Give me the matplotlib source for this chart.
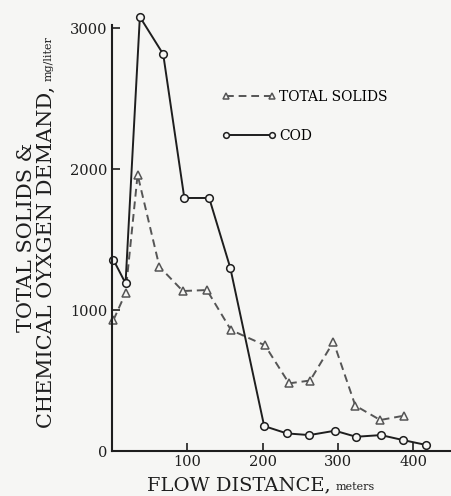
import matplotlib
matplotlib.use('Agg')
import matplotlib.pyplot as plt

plt.rcParams['font.family'] = ['DejaVu Serif']

# Flow distance (m) and concentrations (mg/liter)
cod_dist = [2, 18, 37, 68, 96, 129, 157, 202, 232, 262, 296, 324, 357, 386, 417]
cod_vals = [1355, 1190, 3080, 2815, 1795, 1795, 1300, 177, 125, 113, 144, 101, 113, 78, 43]

ts_dist = [2, 18, 34, 63, 94, 126, 158, 203, 235, 263, 294, 323, 356, 387]
ts_vals = [930, 1120, 1960, 1307, 1135, 1142, 858, 750, 480, 500, 775, 322, 220, 250]

x_ticks = [100, 200, 300, 400]
y_ticks = [0, 1000, 2000, 3000]

bg = '#f6f6f4'
ink = '#1e1e1e'
fig = plt.figure(figsize=(4.51, 4.96), dpi=100, facecolor=bg)
ax = fig.add_axes([0.2483, 0.0907, 0.7517, 0.881])
ax.set_facecolor(bg)

ts_line, = ax.plot(ts_dist, ts_vals, color='#555555', lw=1.4, ls=(0, (4, 2.5)),
                   marker='^', ms=6, mfc=bg, mec='#555555', mew=1.1, clip_on=False)
cod_line, = ax.plot(cod_dist, cod_vals, color=ink, lw=1.4, ls='-',
                    marker='o', ms=5.5, mfc=bg, mec=ink, mew=1.1, clip_on=False)

ax.set_xlim(0, 450)
ax.set_ylim(0, 3100)
ax.set_xticks(x_ticks)
ax.set_yticks(y_ticks)
ax.tick_params(direction='in', length=6, width=1.2, labelsize=10.5, pad=3, colors=ink)
for s in ['top', 'right']:
    ax.spines[s].set_visible(False)
for s in ['left', 'bottom']:
    ax.spines[s].set_linewidth(1.5)
    ax.spines[s].set_color(ink)
ax.spines['left'].set_bounds(0, 3020)

leg = ax.legend([ts_line, cod_line], ['TOTAL SOLIDS', 'COD'], loc='upper left',
                bbox_to_anchor=(0.324, 0.826), frameon=False, fontsize=10,
                handlelength=3.9, handletextpad=0.2, labelspacing=1.8,
                borderpad=0, borderaxespad=0, numpoints=2, markerscale=0.75)

renderer = fig.canvas.get_renderer()
W, H = fig.bbox.width, fig.bbox.height


def label_pair(big, small, x_px, y_px, rotation, big_size, small_size):
    # big text followed by a smaller unit text on the same baseline
    t = fig.text(x_px / W, 1 - y_px / H, big, fontsize=big_size, rotation=rotation,
                 rotation_mode='anchor', ha='left', va='baseline', color=ink)
    bb = t.get_window_extent(renderer)
    if rotation == 0:
        fig.text((bb.x1 + 5) / W, 1 - y_px / H, small, fontsize=small_size,
                 ha='left', va='baseline', color=ink)
    else:
        fig.text(x_px / W, (bb.y1 + 5) / H, small, fontsize=small_size, rotation=rotation,
                 rotation_mode='anchor', ha='left', va='baseline', color=ink)


label_pair('FLOW DISTANCE,', 'meters', 147, 490, 0, 14, 8)
fig.text(32 / W, 1 - 332 / H, 'TOTAL SOLIDS &', fontsize=15, rotation=90,
         rotation_mode='anchor', ha='left', va='baseline', color=ink)
label_pair('CHEMICAL OYXGEN DEMAND,', 'mg/liter', 52, 428, 90, 15, 8)

fig.savefig('out.png', dpi=100, facecolor=bg)
